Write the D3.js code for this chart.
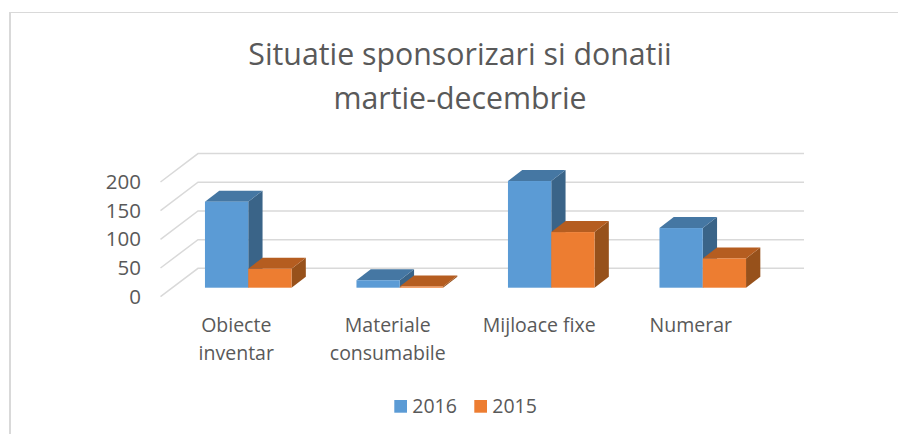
<!DOCTYPE html>
<html>
<head>
<meta charset="utf-8">
<script src="https://d3js.org/d3.v7.min.js"></script>
<style>
    body { margin: 0; background: #fff; }
    text { font-family: "Open Sans", sans-serif; fill: #595959; }
</style>
</head>
<body>
<div id="grafic"></div>
<script>
    const categorii = ["Obiecte inventar", "Materiale consumabile", "Mijloace fixe", "Numerar"];
    const serii = ["2016", "2015"];
    const valori2016 = [150, 13, 186, 104];
    const valori2015 = [33, 2, 97, 51];
    const ticks = [0, 50, 100, 150, 200];
    const titlu = ["Situatie sponsorizari si donatii", "martie-decembrie"];

    const culori = { "2016": "#5b9bd5", "2015": "#ed7d31" };
    const laturi = { "2016": "#3a6488", "2015": "#97511b" };
    const capace = { "2016": "#4577a3", "2015": "#b55d20" };

    const svg = d3.select("#grafic")
        .append("svg")
        .attr("width", 898)
        .attr("height", 434);

    // Chenar
    svg.append("path")
        .attr("d", "M10,434V12.5")
        .attr("stroke", "#d9d9d9")
        .attr("stroke-width", 2);
    svg.append("path")
        .attr("d", "M9,12.5H898")
        .attr("stroke", "#d9d9d9");

    // Titlu
    svg.append("g").selectAll("text")
        .data(titlu)
        .enter()
        .append("text")
        .attr("x", 460)
        .attr("y", (d, i) => 65 + i * 44)
        .attr("text-anchor", "middle")
        .attr("font-size", 30.3)
        .text(d => d);

    // Escale
    const y = d3.scaleLinear().domain([0, 200]).range([296.7, 182]);
    const x0 = d3.scaleBand().domain(categorii).range([160.5, 766.5]);
    const x1 = d3.scaleBand().domain(serii).range([0, x0.bandwidth()]).paddingOuter(0.75);

    // Adancime 3D
    const adancime = { x: 37.5, y: -28.4 };
    const barFata = { x: 12, y: -9 };
    const barDepth = { x: 14.3, y: -11 };

    // Grila
    const grila = svg.append("g");
    ticks.forEach(t => {
        const yy = y(t);
        grila.append("path")
            .attr("d", `M${x0.range()[0]},${yy}l${adancime.x},${adancime.y}H${x0.range()[1] + adancime.x}`)
            .attr("fill", "none")
            .attr("stroke", "#d9d9d9")
            .attr("stroke-width", 1.5);
    });

    // Axa y
    svg.append("g")
        .attr("transform", "translate(141, 0)")
        .call(d3.axisLeft(y).tickValues(ticks).tickSize(0).tickPadding(0))
        .call(g => g.select(".domain").remove())
        .selectAll("text")
        .attr("font-size", 20.5);

    // Barele
    const date = categorii.flatMap((c, i) => [
        { categorie: c, serie: "2016", valoare: valori2016[i] },
        { categorie: c, serie: "2015", valoare: valori2015[i] }
    ]);

    const bare = svg.append("g")
        .selectAll("g")
        .data(date)
        .enter()
        .append("g")
        .attr("transform", d => `translate(${x0(d.categorie) + x1(d.serie) + barFata.x}, ${barFata.y})`);

    bare.append("path")
        .attr("d", d => {
            const w = x1.bandwidth();
            const top = y(d.valoare);
            return `M${w},${top}l${barDepth.x},${barDepth.y}V${y(0) + barDepth.y}l${-barDepth.x},${-barDepth.y}Z`;
        })
        .attr("fill", d => laturi[d.serie]);

    bare.append("path")
        .attr("d", d => {
            const w = x1.bandwidth();
            const top = y(d.valoare);
            return `M0,${top}l${barDepth.x},${barDepth.y}h${w}l${-barDepth.x},${-barDepth.y}Z`;
        })
        .attr("fill", d => capace[d.serie]);

    bare.append("rect")
        .attr("x", 0)
        .attr("y", d => y(d.valoare))
        .attr("width", x1.bandwidth())
        .attr("height", d => y(0) - y(d.valoare))
        .attr("fill", d => culori[d.serie]);

    // Axa x
    const axaX = svg.append("g")
        .attr("transform", "translate(0, 300)")
        .call(d3.axisBottom(x0).tickSize(0).tickPadding(0));
    axaX.select(".domain").remove();
    axaX.selectAll("text")
        .attr("font-size", 19.5)
        .each(function (d) {
            const cuvinte = d === "Mijloace fixe" ? [d] : d.split(" ");
            const t = d3.select(this).text(null).attr("y", 0).attr("dy", null);
            cuvinte.forEach((c, i) => {
                t.append("tspan")
                    .attr("x", 0)
                    .attr("y", 32 + i * 28)
                    .text(c);
            });
        });

    // Legenda
    const legenda = svg.append("g");
    serii.forEach((s, i) => {
        const lx = 394.3 + i * 80;
        legenda.append("rect")
            .attr("x", lx)
            .attr("y", 400)
            .attr("width", 12.7)
            .attr("height", 12.7)
            .attr("fill", culori[s]);
        legenda.append("text")
            .attr("x", lx + 18)
            .attr("y", 413)
            .attr("font-size", 19.5)
            .text(s);
    });
</script>
</body>
</html>
